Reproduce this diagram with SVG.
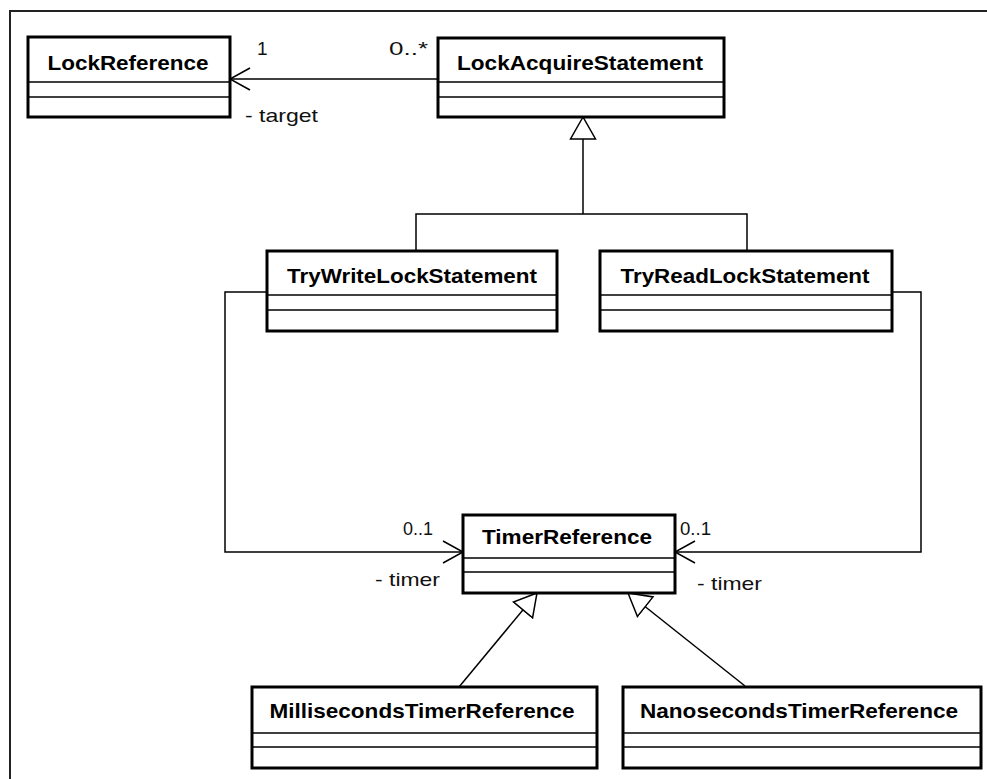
<svg xmlns="http://www.w3.org/2000/svg" width="987" height="779" viewBox="0 0 987 779">
  <style>
    .frame { fill: none; stroke: #222; stroke-width: 2; }
    .box { fill: #fff; stroke: #000; stroke-width: 3; }
    .div { stroke: #000; stroke-width: 1.5; }
    .name { font-family: "Liberation Sans", Arial, sans-serif; font-weight: bold; font-size: 21px; fill: #000; text-anchor: middle; }
    .lbl { font-family: "Liberation Sans", Arial, sans-serif; font-size: 19px; fill: #111; }
    .edge { fill: none; stroke: #000; stroke-width: 1.5; }
  </style>
  <defs>
    <marker id="open" viewBox="-22 -13 24 26" refX="0" refY="0" markerWidth="24" markerHeight="26" markerUnits="userSpaceOnUse" orient="auto">
      <path d="M-20,-11 L0,0 L-20,11" fill="none" stroke="#000" stroke-width="1.5"/>
    </marker>
    <marker id="tri" viewBox="-1 -1 25 28" refX="22" refY="13" markerWidth="25" markerHeight="28" markerUnits="userSpaceOnUse" orient="auto">
      <path d="M22,13 L0,0.5 L0,25.5 Z" fill="#fff" stroke="#000" stroke-width="1.5"/>
    </marker>
  </defs>

  <rect width="987" height="779" fill="#fff"/>
  <!-- outer frame -->
  <path class="frame" d="M10,779 V11 H987"/>

  <!-- connectors -->
  <g id="connectors">
    <path class="edge" d="M438,79 H230" marker-end="url(#open)"/>
    <path class="edge" d="M416,251 V214 H747 V251"/>
    <path class="edge" d="M583,214 V117" marker-end="url(#tri)"/>
    <path class="edge" d="M267,292 H225 V552 H463" marker-end="url(#open)"/>
    <path class="edge" d="M892,292 H921 V552 H675" marker-end="url(#open)"/>
    <path class="edge" d="M459,687 L537,593" marker-end="url(#tri)"/>
    <path class="edge" d="M745,686 L628,593" marker-end="url(#tri)"/>
    <text class="lbl" x="257" y="55">1</text>
    <text class="lbl" x="245" y="122" textLength="73" lengthAdjust="spacingAndGlyphs">- target</text>
    <text class="lbl" x="389" y="55" textLength="39" lengthAdjust="spacingAndGlyphs">0..*</text>
    <text class="lbl" x="403" y="535" textLength="30" lengthAdjust="spacingAndGlyphs">0..1</text>
    <text class="lbl" x="375" y="586" textLength="65" lengthAdjust="spacingAndGlyphs">- timer</text>
    <text class="lbl" x="680" y="535" textLength="31" lengthAdjust="spacingAndGlyphs">0..1</text>
    <text class="lbl" x="697" y="590" textLength="65" lengthAdjust="spacingAndGlyphs">- timer</text>
  </g>

  <g id="LockReference">
    <rect class="box" x="28" y="37" width="202" height="80"/>
    <line class="div" x1="28" y1="82" x2="230" y2="82"/>
    <line class="div" x1="28" y1="97" x2="230" y2="97"/>
    <text class="name" x="128" y="70" textLength="161" lengthAdjust="spacingAndGlyphs">LockReference</text>
  </g>

  <g id="LockAcquireStatement">
    <rect class="box" x="438" y="38" width="286" height="79"/>
    <line class="div" x1="438" y1="82" x2="724" y2="82"/>
    <line class="div" x1="438" y1="97" x2="724" y2="97"/>
    <text class="name" x="580" y="70" textLength="246" lengthAdjust="spacingAndGlyphs">LockAcquireStatement</text>
  </g>

  <g id="TryWriteLockStatement">
    <rect class="box" x="267" y="251" width="290" height="80"/>
    <line class="div" x1="267" y1="295" x2="557" y2="295"/>
    <line class="div" x1="267" y1="310" x2="557" y2="310"/>
    <text class="name" x="412" y="283" textLength="250" lengthAdjust="spacingAndGlyphs">TryWriteLockStatement</text>
  </g>

  <g id="TryReadLockStatement">
    <rect class="box" x="600" y="251" width="292" height="80"/>
    <line class="div" x1="600" y1="295" x2="892" y2="295"/>
    <line class="div" x1="600" y1="310" x2="892" y2="310"/>
    <text class="name" x="745" y="283" textLength="249" lengthAdjust="spacingAndGlyphs">TryReadLockStatement</text>
  </g>

  <g id="TimerReference">
    <rect class="box" x="463" y="515" width="212" height="78"/>
    <line class="div" x1="463" y1="558" x2="675" y2="558"/>
    <line class="div" x1="463" y1="572" x2="675" y2="572"/>
    <text class="name" x="567" y="544" textLength="170" lengthAdjust="spacingAndGlyphs">TimerReference</text>
  </g>

  <g id="MillisecondsTimerReference">
    <rect class="box" x="252" y="687" width="345" height="81"/>
    <line class="div" x1="252" y1="733" x2="597" y2="733"/>
    <line class="div" x1="252" y1="747" x2="597" y2="747"/>
    <text class="name" x="422" y="718" textLength="305" lengthAdjust="spacingAndGlyphs">MillisecondsTimerReference</text>
  </g>

  <g id="NanosecondsTimerReference">
    <rect class="box" x="623" y="687" width="358" height="81"/>
    <line class="div" x1="623" y1="733" x2="981" y2="733"/>
    <line class="div" x1="623" y1="747" x2="981" y2="747"/>
    <text class="name" x="799" y="718" textLength="318" lengthAdjust="spacingAndGlyphs">NanosecondsTimerReference</text>
  </g>
</svg>
